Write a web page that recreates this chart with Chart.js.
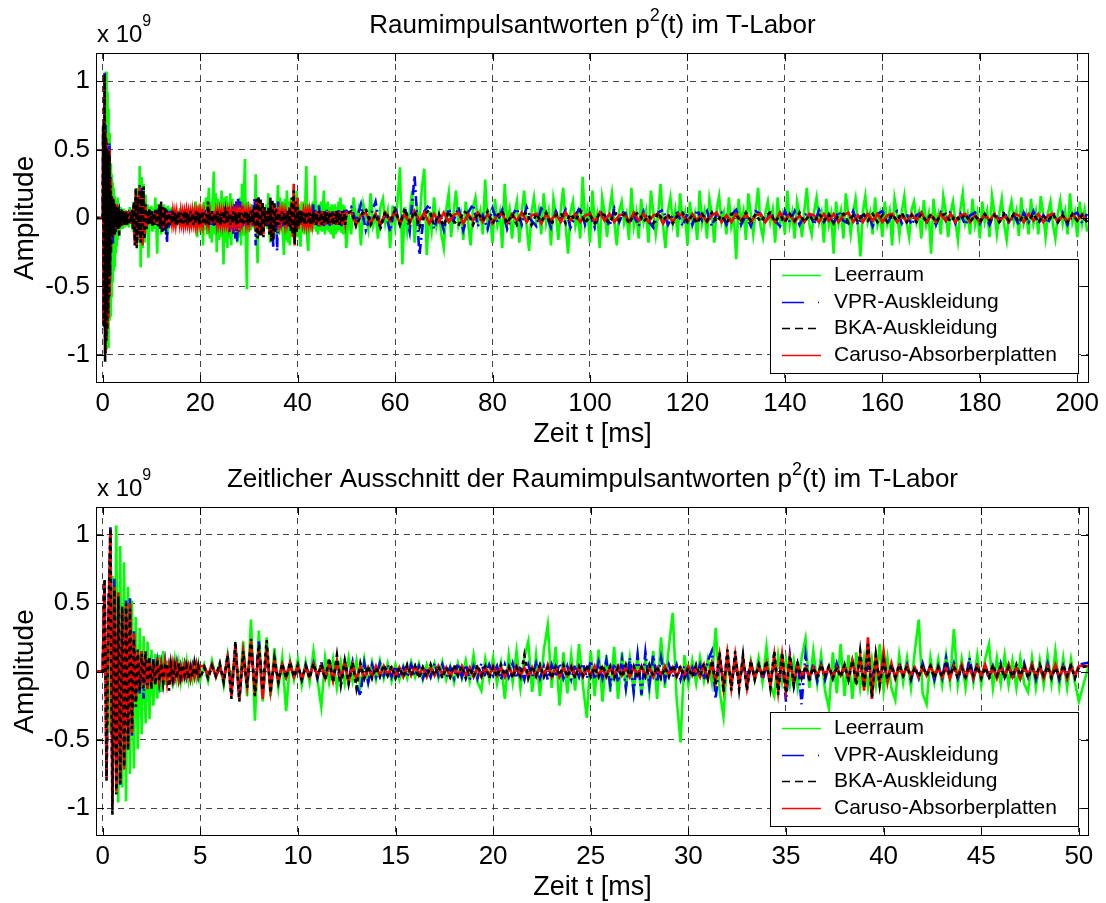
<!DOCTYPE html>
<html>
<head>
<meta charset="utf-8">
<script src="https://cdn.jsdelivr.net/npm/chart.js@4.4.1/dist/chart.umd.min.js"></script>
<style>
html,body{margin:0;padding:0;background:#fff;width:1106px;height:903px;overflow:hidden}
canvas{position:absolute;left:0}
#c1{top:0}
#c2{top:453px}
</style>
</head>
<body>
<canvas id="c1" width="1106" height="450"></canvas>
<canvas id="c2" width="1106" height="450"></canvas>
<script>
// ---------------- DATA ----------------
// amplitudes are stored in units of 1e7 (i.e. 1/100 of the "x 10^9" axis unit)
const valueUnit = 0.01;

const seriesNames = ['Leerraum', 'VPR-Auskleidung', 'BKA-Auskleidung', 'Caruso-Absorberplatten'];

const titleTopParts = ['Raumimpulsantworten p', '2', '(t) im T-Labor'];
const titleBottomParts = ['Zeitlicher Ausschnitt der Raumimpulsantworten p', '2', '(t) im T-Labor'];
const xAxisLabel = 'Zeit t [ms]';
const yAxisLabel = 'Amplitude';
const exponentParts = ['x 10', '9'];

const xTicksTop = [0, 20, 40, 60, 80, 100, 120, 140, 160, 180, 200];
const xTicksBottom = [0, 5, 10, 15, 20, 25, 30, 35, 40, 45, 50];
const yTicks = [-1, -0.5, 0, 0.5, 1];

// silence before the impulse: -2.0 ... -0.5 ms
const leadInStartMs = -2;
const leadInStepMs = 0.5;
const leadIn = [0, 0, 0, 0];

// 0.0 ... 5.0 ms, every 0.1 ms
const earlyStartMs = 0;
const earlyStepMs = 0.1;
const greenEarly = [0, 5, -10, 30, -45, 70, -60, 107, -96, 92, -85, 80, -95, 62, -75, 52, -71, 40, -57, 32, -46, 26, -38, 22, -35, 16, -25, 13, -20, 12, -15, 15, -10, 8, -9, 7, -6, 8, -5, 6, -7, 5, -4, 7, -6, 4, -5, 6, -4, 5, -6];
const blueEarly = [0, 64, -76, 45, 107, -92, 68, -86, 52, -84, 44, -68, 52, -52, 55, -48, 30, -20, 12, -16, 10, -20, 14, -12, 8, -10, 9, -7, 6, -8, 5, -6, 7, -5, 4, -6, 5, -4, 6, -5, 4, -3, 5, -4, 3, -5, 4, -3, 5, -4, 3];
const blackEarly = [0, 68, -80, 42, 105, -105, 60, -90, 55, -82, 48, -70, 50, -58, 46, -42, 24, -26, 16, -14, 13, -12, 15, -10, 11, -13, 8, -10, 9, -7, 6, -8, 5, 6, -14, 5, -6, 4, -5, 6, -4, 5, -3, 4, -5, 3, -4, 6, -3, 4, -5];
const redEarly = [0, 66, -78, 38, 104, -98, 62, -88, 58, -80, 46, -72, 48, -56, 50, -45, 28, -22, 14, -12, 15, -10, 12, -13, 9, -11, 7, -9, 10, -6, 5, -7, 6, -8, 4, -5, 6, -4, 5, -6, 3, -4, 5, -3, 4, -5, 3, -4, 5, -3, 4];

// 5.2 ... 50.0 ms, every 0.2 ms
const midStartMs = 5.2;
const midStepMs = 0.2;
const greenMid = [
  5, -7, 8, -4, 6, -10, 12, -8, 15, -14,
  22, -18, 38, -36, 30, -22, 25, -18, 17, -12,
  10, -29, 8, -6, 9, -10, 7, -8, 15, -6,
  -26, 10, -8, 9, -12, 7, -9, 10, -7, 8,
  -11, 9, -8, 7, -6, 8, -5, 6, -7, 5,
  -6, 4, -5, 7, -4, 6, -6, 5, -4, 6,
  -5, 7, -6, 4, -8, 6, -5, 8, -7, 12,
  -8, -14, 9, -6, 10, -9, 6, -20, 12, -8,
  15, -12, 10, 22, -15, 12, -18, 16, 34, -12,
  18, -25, 14, -16, 12, -14, 20, -10, -34, 15,
  -18, 16, -22, 12, -15, 18, -20, 14, -12, 10,
  -15, 12, -18, 10, -14, 15, -20, 25, -12, 18,
  43, -20, -52, 12, -10, 8, -9, 10, -7, 9,
  -8, 32, -14, -33, 12, -8, 10, -7, 9, -10,
  8, -6, 10, -8, 18, -10, -18, 12, -8, 9,
  -10, 8, -12, 10, 24, -12, 15, -9, 12, -14,
  -27, 14, -16, 20, -18, 12, -20, 14, -12, 10,
  -12, 9, -10, 20, -14, 10, -12, -21, 12, -8,
  10, -12, 15, 38, -16, -24, 10, -8, 9, -10,
  12, -8, 31, -10, 9, -12, 10, -8, 12, -10,
  9, 20, -12, 10, -9, 12, -10, 8, -12, 10,
  -9, -15, 10, -12, 8, -10, 12, -9, 15, -11,
  10, -12, 9, -8, -22
];
const blueMid = [
  4, -3, 5, -4, 3, -6, 10, -12, 15, -20,
  12, -10, 18, -14, 22, -16, 12, -8, 6, -7,
  5, -4, 6, -5, 4, -6, 5, -4, 6, -5,
  7, -6, 8, -5, 6, -10, 8, -6, 7, -9,
  -18, 6, -8, 5, -4, 6, -3, 5, -4, 4,
  -5, 3, -4, 5, -3, 4, -5, 3, -4, 6,
  -3, 5, -4, 3, -5, 6, -4, 5, -6, 4,
  -5, 6, -4, 5, -3, 4, -6, 5, -4, 6,
  -5, 4, -6, 5, -4, 6, -5, 4, -6, 5,
  -4, 6, -5, 4, -6, 5, -4, 6, -5, 8,
  -6, 7, -5, 8, -10, 6, -8, 9, -12, 10,
  -15, 12, -17, 14, -10, 12, -8, 10, -6, 5,
  -4, 5, -6, 4, -5, 3, -4, 5, -6, 8,
  15, -20, 10, -8, 6, -7, 5, -6, 4, -5,
  6, -4, 5, -6, 4, -8, 6, -5, 10, -22,
  12, -10, 8, -24, 12, -8, 6, -7, 5, -6,
  4, -5, 6, -4, 5, -6, 8, -4, 5, -6,
  4, -5, 6, -4, 5, -6, 4, -5, 6, -4,
  5, -6, 4, -5, 6, -4, 5, -6, 4, -5,
  10, -4, 6, -5, 4, -6, 10, -5, 6, -4,
  5, -6, 4, -5, 6, -4, 5, -6, 4, -5,
  6, -4, 5, -6, 4, -5, 6, -4, 5, -6,
  4, -5, 6, -4, 5
];
const blackMid = [
  3, -5, 4, -3, 6, -8, 12, -20, 22, -22,
  15, -12, 24, -18, 20, -14, 23, -16, 10, -8,
  6, -5, 7, -4, 5, -6, 4, -5, 6, -4,
  5, -6, 10, -8, 12, -10, 8, -9, 7, -12,
  6, -5, 4, -5, 3, -4, 5, -3, 4, -5,
  3, -4, 5, -3, 4, -5, 3, -4, 5, -3,
  4, -5, 3, -4, 5, -3, 4, -5, 3, -4,
  5, -3, 4, -5, 3, -4, 5, -3, 4, -5,
  3, -4, 12, -5, 4, -3, 5, -4, 3, -5,
  4, -3, 5, -4, 3, -5, 4, -3, 5, -4,
  3, -4, 5, -3, 4, -5, 3, -4, 5, -3,
  4, -5, 3, -4, 5, -3, 4, -5, 3, -4,
  5, -3, 4, -5, 3, -4, 5, -3, 6, -5,
  8, -10, 14, -15, 16, -14, 15, -13, 12, -14,
  8, -6, 5, -4, 8, -12, 15, -17, 14, -16,
  12, -10, 6, -5, 4, -5, 3, -4, 5, -3,
  4, -5, 3, -4, 5, -6, 8, -10, 15, -12,
  20, -19, 12, -10, 8, -6, 5, -4, 5, -3,
  4, -5, 3, -4, 5, -3, 4, -5, 3, -4,
  5, -3, 4, -5, 3, -4, 5, -3, 4, -5,
  3, -4, 5, -3, 4, -5, 3, -4, 5, -3,
  4, -5, 3, -4, 5, -3, 4, -5, 3, -4,
  5, -3, 4, -5, 3
];
const redMid = [
  4, -3, 5, -4, 4, -6, 10, -18, 20, -20,
  14, -10, 22, -16, 16, -20, 18, -14, 8, -7,
  5, -4, 6, -4, 4, -5, 3, -4, 5, -3,
  4, -5, 6, -7, 8, -6, 7, -8, 5, -6,
  4, -5, 3, -4, 4, -3, 4, -3, 3, -4,
  3, -4, 4, -3, 4, -3, 3, -4, 3, -3,
  4, -3, 3, -4, 3, -3, 4, -3, 3, -4,
  3, -4, 3, -3, 4, -3, 3, -4, 3, -3,
  4, -3, 3, -4, 3, -4, 4, -3, 5, -4,
  3, -4, 3, -3, 4, -3, 3, -4, 3, -3,
  4, -3, 3, -4, 3, -3, 4, -3, 3, -4,
  3, -3, 4, -3, 3, -4, 3, -3, 4, -3,
  3, -4, 3, -3, 4, -3, 3, -4, 5, -6,
  6, -8, 12, -12, 13, -12, 12, -10, 10, -12,
  6, -5, 4, -3, 6, -10, 12, -15, 12, -14,
  10, -8, 5, -4, 3, -4, 3, -3, 4, -3,
  3, -4, 3, -3, 4, -5, 8, -6, 12, -14,
  25, -20, 12, -10, 15, -8, 6, -5, 4, -3,
  4, -3, 3, -4, 3, -3, 4, -3, 3, -4,
  3, -5, 4, -3, 5, -4, 3, -5, 4, -3,
  5, -4, 3, -5, 4, -3, 5, -4, 3, -5,
  4, -3, 5, -4, 3, -5, 4, -3, 5, -4,
  3, -5, 4, -3, 4
];

// Leerraum late part: 50.5 ... 202 ms, every 0.5 ms
const greenTailStartMs = 50.5;
const greenTailStepMs = 0.5;
const greenTail = [
  4, -12, 15, -3, 6, -20, 10, 2, -8, 18, -5, 3, -15, 8, 14, -4, 5, -22, 9, -6,
  12, 37, -34, 8, -10, 4, 20, -18, 6, -5, 22, 36, -27, 5, -9, 15, -6, 3, -12, -22,
  6, 18, -14, 4, 20, -5, 3, -16, 12, -4, -20, 8, 15, -3, 5, -12, 28, -6, 2, -18,
  14, -5, 4, -22, 25, -4, 6, -15, 3, 12, -18, 5, 20, -6, -24, 4, 15, -3, 6, -12,
  18, -4, 5, -20, 14, 3, -16, 6, 22, -5, -26, 4, 12, -6, 3, -15, 30, -4, 6, -18,
  20, -5, 3, -22, 15, 4, -14, 6, 18, -3, -20, 5, 12, -4, 3, -16, 22, -6, 4, -15,
  14, -3, 5, -18, 20, 4, -12, 3, 25, -6, -22, 5, 15, -4, 6, -14, 18, -3, 4, -20,
  12, -5, 3, -16, 20, -4, 5, -15, 14, 3, -18, 6, 16, -3, 4, -12, 15, -6, 3, -30,
  14, -4, 5, -16, 18, 3, -12, 5, 22, -6, -14, 4, 12, -3, 6, -18, 15, -4, 3, -12,
  20, -5, 4, -15, 12, 3, -14, 6, 22, -4, -12, 5, 15, -3, 4, -18, 14, -5, 3, -26,
  12, -4, 5, -15, 18, 3, -12, 4, 14, -6, -28, 5, 16, -3, 4, -12, 15, -5, 3, -14,
  12, -4, 5, -20, 14, 3, -12, 5, 16, -4, -14, 6, 12, -3, 4, -15, 13, -5, 3, -26,
  14, -4, 3, -12, 16, 5, -14, 4, 12, -3, -16, 6, 18, -4, 3, -12, 14, -5, 4, -15,
  12, -3, 5, -14, 16, 4, -12, 3, 14, -5, -16, 4, 12, -3, 5, -13, 15, -4, 3, -12,
  14, -4, 5, -12, 16, 3, -14, 4, 12, -5, -15, 3, 13, -4, 5, -12, 18, -3, 4, -14,
  12, -4, 6, -10
];

// other series late part: 51 ... 202 ms, every 1 ms
const tailStartMs = 51;
const tailStepMs = 1;
const blueTail = [
  8, -3, 10, -9, 2, 12, -8, 4, -10, 9,
  -6, 8, -10, 31, -27, 5, 10, -8, 3, -9,
  7, -2, 8, -9, 4, 10, -6, 2, -8, 7,
  -3, 6, -8, 2, 7, -5, 8, -2, -6, 7,
  3, -7, 5, -2, 6, -7, 2, 8, -5, 3,
  -7, 5, 2, -6, 7, -3, 6, -4, 2, -6,
  5, -2, -7, 4, 6, -5, 2, 4, -6, 3,
  -5, 6, -2, 5, -6, 3, 4, -5, 2, 6,
  -5, 2, -6, 5, 3, -4, 5, -2, -6, 5,
  -3, 5, -5, 2, 4, -5, 6, -3, 2, -4,
  5, -2, -4, 5, -5, 2, 4, -6, 3, 5,
  -4, 2, 5, -4, 3, -5, 2, 4, -4, 3,
  -5, 4, -2, 5, -4, 3, -5, 2, 4, -4,
  3, -5, 4, -2, 5, -4, 2, -5, 4, -3,
  5, -4, 2, -4, 5, -3, 4, -5, 2, 4,
  -4, 3
];
const blackTail = [
  5, -6, 2, 7, -5, 3, -7, 5, -2, 6,
  -5, 7, -3, 5, -7, 2, 6, -5, 3, -6,
  5, -2, -6, 5, 3, -5, 4, -2, 5, -4,
  2, 5, -4, 3, -5, 2, 4, -5, 3, -3,
  4, -5, 2, 4, -4, 3, -2, 5, -4, 2,
  -4, 4, 2, -4, 4, -2, 3, -4, 2, 4,
  -3, 2, -4, 4, -2, 3, -4, 2, 4, -3,
  2, -4, 3, -2, 4, -3, 2, -4, 3, 2,
  -3, 4, -2, 3, -3, 2, 4, -3, 2, -3,
  3, -2, 4, -3, 2, -3, 3, -2, 3, -4,
  2, 3, -3, 2, -3, 4, -2, 3, -3, 2,
  -3, 3, -2, 4, -3, 2, -3, 3, -2, 3,
  -3, 2, 3, -3, 2, -2, 3, -3, 2, -3,
  3, -2, 2, -3, 3, -2, 3, -3, 2, -2,
  3, -3, 2, -2, 3, -3, 2, -3, 3, -2,
  2, -3
];
const redTail = [
  4, -5, 2, 4, -4, 3, -5, 4, -2, 5,
  -4, 3, -4, 5, -2, 4, -4, 3, -3, 4,
  -3, 2, 4, -4, 3, -2, 4, -3, 3, -4,
  2, 3, -4, 3, -2, 4, -3, 2, 3, -4,
  3, -2, 3, -3, 4, -2, 3, -3, 2, 3,
  -3, 4, -2, 3, -3, 2, 3, -3, 4, -2,
  3, -3, 2, 3, -4, 2, -3, 3, 2, -3,
  3, -2, 3, -3, 2, 4, -3, 2, -3, 3,
  -2, 3, -3, 2, 3, -3, 2, -3, 4, -2,
  3, -3, 2, -3, 3, 2, -3, 3, -2, 3,
  -3, 2, 4, -3, 2, -3, 3, -2, 3, -3,
  2, 3, -3, 2, -3, 3, -2, 4, -3, 2,
  -3, 3, -2, 3, -3, 2, 3, -3, 2, -3,
  3, -2, 3, -3, 2, -3, 3, 2, -3, 3,
  -2, 3, -3, 2, 3, -3, 2, -3, 3, -2,
  3, -3
];

// ---------------- RENDERING ----------------
const FONT = '"Liberation Sans", Arial, Helvetica, sans-serif';

function toPoints(vals, start, step) {
  return vals.map((v, i) => ({ x: +(start + i * step).toFixed(4), y: v * valueUnit }));
}
function seriesPoints(early, mid, tail, tStart, tStep) {
  return toPoints(leadIn, leadInStartMs, leadInStepMs)
    .concat(toPoints(early, earlyStartMs, earlyStepMs))
    .concat(toPoints(mid, midStartMs, midStepMs))
    .concat(toPoints(tail, tStart, tStep));
}

const seriesStyles = [
  { color: '#00ff00', dash: [], width: 2.6, order: 4 },
  { color: '#0000ff', dash: [10, 4, 2, 4], width: 2.6, order: 3 },
  { color: '#000000', dash: [4, 4], width: 2.6, order: 1 },
  { color: '#ff0000', dash: [], width: 2.6, order: 2 }
];
const legendDash = [[], [22, 14, 1, 3], [8, 5], []];

function buildDatasets() {
  const pts = [
    seriesPoints(greenEarly, greenMid, greenTail, greenTailStartMs, greenTailStepMs),
    seriesPoints(blueEarly, blueMid, blueTail, tailStartMs, tailStepMs),
    seriesPoints(blackEarly, blackMid, blackTail, tailStartMs, tailStepMs),
    seriesPoints(redEarly, redMid, redTail, tailStartMs, tailStepMs)
  ];
  return pts.map((p, k) => ({
    label: seriesNames[k],
    data: p,
    borderColor: seriesStyles[k].color,
    backgroundColor: seriesStyles[k].color,
    borderWidth: seriesStyles[k].width,
    borderDash: seriesStyles[k].dash,
    order: seriesStyles[k].order,
    pointRadius: 0,
    tension: 0,
    fill: false
  }));
}

function drawParts(ctx, parts, x, baseline, size, supSize, supRise, align) {
  const widths = parts.map((t, i) => {
    ctx.font = ((i % 2 === 1) ? supSize : size) + 'px ' + FONT;
    return ctx.measureText(t).width;
  });
  const total = widths.reduce((a, b) => a + b, 0);
  let cx = align === 'center' ? x - total / 2 : x;
  ctx.textAlign = 'left';
  ctx.textBaseline = 'alphabetic';
  parts.forEach((t, i) => {
    const sup = (i % 2 === 1);
    ctx.font = (sup ? supSize : size) + 'px ' + FONT;
    ctx.fillText(t, cx, sup ? baseline - supRise : baseline);
    cx += widths[i];
  });
}

const decorPlugin = {
  id: 'decor',
  afterDraw(chart, args, opts) {
    const { ctx, chartArea: a, scales } = chart;
    ctx.save();
    ctx.setLineDash([]);
    ctx.strokeStyle = '#000';
    ctx.lineWidth = 1;
    const L = 8;
    ctx.beginPath();
    scales.x.ticks.forEach(t => {
      const px = Math.round(scales.x.getPixelForValue(t.value)) + 0.5;
      ctx.moveTo(px, a.bottom); ctx.lineTo(px, a.bottom - L);
      ctx.moveTo(px, a.top); ctx.lineTo(px, a.top + L);
    });
    scales.y.ticks.forEach(t => {
      const py = Math.round(scales.y.getPixelForValue(t.value)) + 0.5;
      ctx.moveTo(a.left, py); ctx.lineTo(a.left + L, py);
      ctx.moveTo(a.right, py); ctx.lineTo(a.right - L, py);
    });
    ctx.stroke();
    ctx.strokeRect(a.left + 0.5, a.top + 0.5, a.right - a.left - 1, a.bottom - a.top - 1);

    ctx.fillStyle = '#000';
    drawParts(ctx, opts.title, (a.left + a.right) / 2, a.top - 20, 26, 18, 12, 'center');
    drawParts(ctx, exponentParts, a.left + 1, a.top - 11.5, 24, 16, 16, 'left');

    ctx.font = '27px ' + FONT;
    ctx.textAlign = 'center';
    ctx.textBaseline = 'middle';
    ctx.fillText(xAxisLabel, (a.left + a.right) / 2, a.bottom + 52);

    ctx.save();
    ctx.font = '28px ' + FONT;
    ctx.textBaseline = 'alphabetic';
    ctx.translate(33, (a.top + a.bottom) / 2);
    ctx.rotate(-Math.PI / 2);
    ctx.fillText(yAxisLabel, 0, 0);
    ctx.restore();

    const bw = 308, bh = 114;
    const bx = a.right - 11 - bw, by = a.bottom - 10 - bh;
    ctx.fillStyle = '#fff';
    ctx.fillRect(bx, by, bw, bh);
    ctx.strokeStyle = '#000';
    ctx.lineWidth = 1;
    ctx.strokeRect(bx + 0.5, by + 0.5, bw, bh);
    ctx.font = '21px ' + FONT;
    ctx.textAlign = 'left';
    ctx.textBaseline = 'middle';
    seriesNames.forEach((name, k) => {
      const y = Math.round(by + 16 + k * 26.7) + 0.5;
      ctx.strokeStyle = seriesStyles[k].color;
      ctx.lineWidth = 1.5;
      ctx.setLineDash(legendDash[k]);
      ctx.beginPath();
      ctx.moveTo(bx + 12, y);
      ctx.lineTo(bx + 51, y);
      ctx.stroke();
      ctx.setLineDash([]);
      ctx.fillStyle = '#000';
      ctx.fillText(name, bx + 64, y);
    });
    ctx.restore();
  }
};

function makeChart(id, xMin, xMax, xTicks, titleParts, padTop) {
  return new Chart(document.getElementById(id), {
    type: 'line',
    data: { datasets: buildDatasets() },
    plugins: [decorPlugin],
    options: {
      responsive: false,
      animation: false,
      events: [],
      layout: { padding: { left: 0, right: 17, top: padTop, bottom: 0 } },
      plugins: {
        legend: { display: false },
        tooltip: { enabled: false },
        title: { display: false },
        decor: { title: titleParts }
      },
      scales: {
        x: {
          type: 'linear',
          min: xMin,
          max: xMax,
          afterBuildTicks: s => { s.ticks = xTicks.map(v => ({ value: v })); },
          afterFit: s => { s.height = 67; },
          ticks: {
            font: { family: FONT, size: 26 },
            color: '#000',
            padding: 5,
            maxRotation: 0,
            autoSkip: false,
            callback: v => String(v)
          },
          grid: { color: '#444444', lineWidth: 1, drawTicks: false },
          border: { display: false, dash: [6, 5] }
        },
        y: {
          type: 'linear',
          min: -1.205,
          max: 1.205,
          afterBuildTicks: s => { s.ticks = yTicks.map(v => ({ value: v })); },
          afterFit: s => { s.width = 96; },
          ticks: {
            font: { family: FONT, size: 26 },
            color: '#000',
            padding: 6,
            autoSkip: false,
            callback: v => String(v)
          },
          grid: { color: '#444444', lineWidth: 1, drawTicks: false },
          border: { display: false, dash: [6, 5] }
        }
      }
    }
  });
}

makeChart('c1', -1.37, 202.4, xTicksTop, titleTopParts, 53);
makeChart('c2', -0.34, 50.52, xTicksBottom, titleBottomParts, 54);
</script>
</body>
</html>
